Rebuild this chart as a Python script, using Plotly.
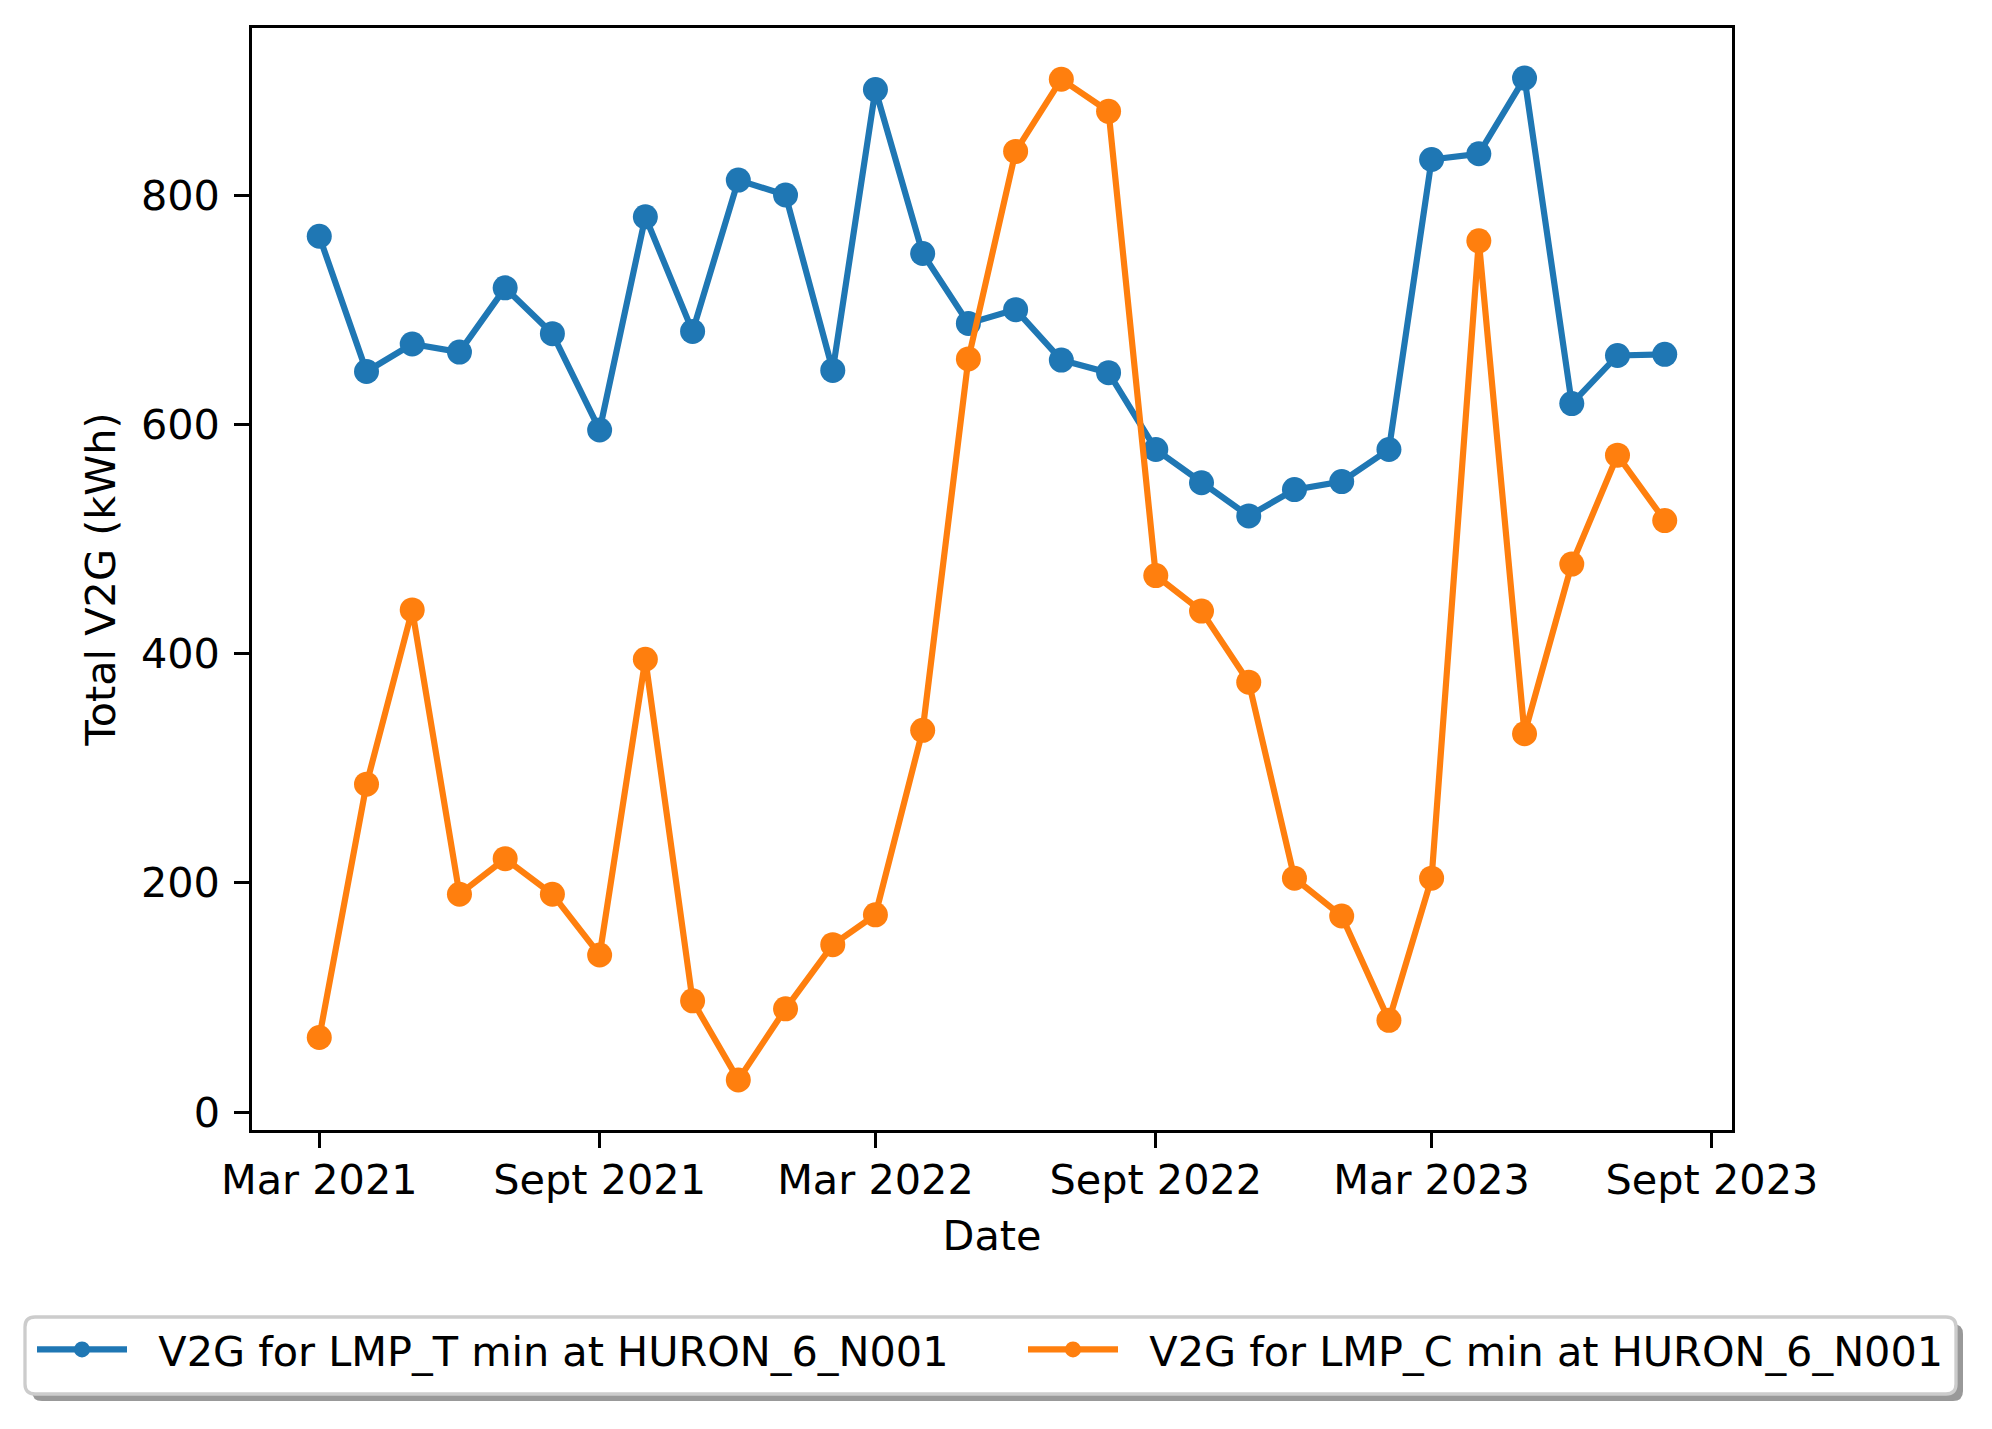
import pandas as pd
import plotly.graph_objects as go

dates = pd.date_range("2021-03-01", periods=30, freq="MS")
v2g_lmp_t = [764, 646, 670, 663, 719, 679, 595, 781, 681, 813, 800, 647, 892, 749, 688,
             700, 656, 645, 578, 549, 520, 543, 550, 578, 831, 836, 902, 618, 660, 661]
v2g_lmp_c = [65, 286, 438, 190, 221, 190, 137, 395, 97, 28, 90, 146, 172, 333, 657,
             838, 901, 873, 468, 437, 375, 204, 171, 80, 204, 760, 330, 478, 573, 516]
series_names = ["V2G for LMP_T min at HURON_6_N001", "V2G for LMP_C min at HURON_6_N001"]
colors = ["#1f77b4", "#ff7f0e"]
tick_dates = ["2021-03-01", "2021-09-01", "2022-03-01", "2022-09-01", "2023-03-01", "2023-09-01"]
tick_labels = ["Mar 2021", "Sept 2021", "Mar 2022", "Sept 2022", "Mar 2023", "Sept 2023"]
y_ticks = [0, 200, 400, 600, 800]

W, H = 1992, 1429
OFF = 8  # page body margin in the browser
L, R, T, B = 252, 1732, 28, 1130  # plot area in screen pixels
pw, ph = R - L, B - T
FS = 41.4

legend_ids = ["legend", "legend2"]
fig = go.Figure()
for vals, name, c, lg in zip([v2g_lmp_t, v2g_lmp_c], series_names, colors, legend_ids):
    fig.add_trace(go.Scatter(x=dates, y=vals, mode="lines+markers",
                             name="\u00a0\u00a0" + name, legend=lg,
                             line=dict(color=c, width=6.2),
                             marker=dict(color=c, size=25, line=dict(width=0))))

# matplotlib-like 5% margins
allv = v2g_lmp_t + v2g_lmp_c
vmin, vmax = min(allv), max(allv)
span = vmax - vmin
yr = [vmin - 0.05 * span, vmax + 0.05 * span]
dspan = dates[-1] - dates[0]
xr = [dates[0] - 0.05 * dspan, dates[-1] + 0.05 * dspan]

def px2paper(x, y):
    return (x - L) / pw, (B - y) / ph

def rounded(x0, y0, x1, y1, r):
    def P(x, y):
        a, b = px2paper(x, y)
        return f"{a:.5f},{b:.5f}"
    return (f"M{P(x0 + r, y0)} L{P(x1 - r, y0)} Q{P(x1, y0)} {P(x1, y0 + r)} "
            f"L{P(x1, y1 - r)} Q{P(x1, y1)} {P(x1 - r, y1)} L{P(x0 + r, y1)} "
            f"Q{P(x0, y1)} {P(x0, y1 - r)} L{P(x0, y0 + r)} Q{P(x0, y0)} {P(x0 + r, y0)} Z")

lx0, ly0, lx1, ly1 = 25, 1317, 1956, 1394
shapes = [
    dict(type="path", xref="paper", yref="paper", path=rounded(lx0 + 7, ly0 + 7, lx1 + 7, ly1 + 7, 10),
         fillcolor="#999999", line=dict(width=0), layer="above"),
    dict(type="path", xref="paper", yref="paper", path=rounded(lx0, ly0, lx1, ly1, 10),
         fillcolor="white", line=dict(color="#cccccc", width=3.3), layer="above"),
]

l1x, l1y = px2paper(32, ly0 - 1)
l2x, _ = px2paper(1023, ly0)
leg_common = dict(orientation="h", xanchor="left", yanchor="top",
                  bgcolor="rgba(0,0,0,0)", borderwidth=0, font=dict(size=FS),
                  itemwidth=90)

fig.update_layout(
    width=W, height=H,
    margin=dict(l=L - OFF, r=W - (R - OFF), t=T - OFF, b=H - (B - OFF), pad=0, autoexpand=False),
    paper_bgcolor="white", plot_bgcolor="white",
    font=dict(family="DejaVu Sans", size=FS, color="black"),
    showlegend=True,
    legend=dict(x=l1x, y=l1y, **leg_common),
    legend2=dict(x=l2x, y=l1y, **leg_common),
    shapes=shapes,
    xaxis=dict(range=xr, tickvals=pd.to_datetime(tick_dates), ticktext=tick_labels,
               showline=True, mirror=True, linecolor="black", linewidth=3.3,
               ticks="outside", ticklen=14.6, tickwidth=3.3, tickcolor="black",
               showgrid=False, zeroline=False, automargin=False, ticklabelstandoff=-3,
               title=dict(text="Date", standoff=18, font=dict(size=FS))),
    yaxis=dict(range=yr, tickvals=y_ticks,
               showline=True, mirror=True, linecolor="black", linewidth=3.3,
               ticks="outside", ticklen=14.6, tickwidth=3.3, tickcolor="black",
               showgrid=False, zeroline=False, automargin=False, ticklabelstandoff=6,
               title=dict(text="Total V2G (kWh)", standoff=13, font=dict(size=FS))),
)

fig.write_html("out.html")
